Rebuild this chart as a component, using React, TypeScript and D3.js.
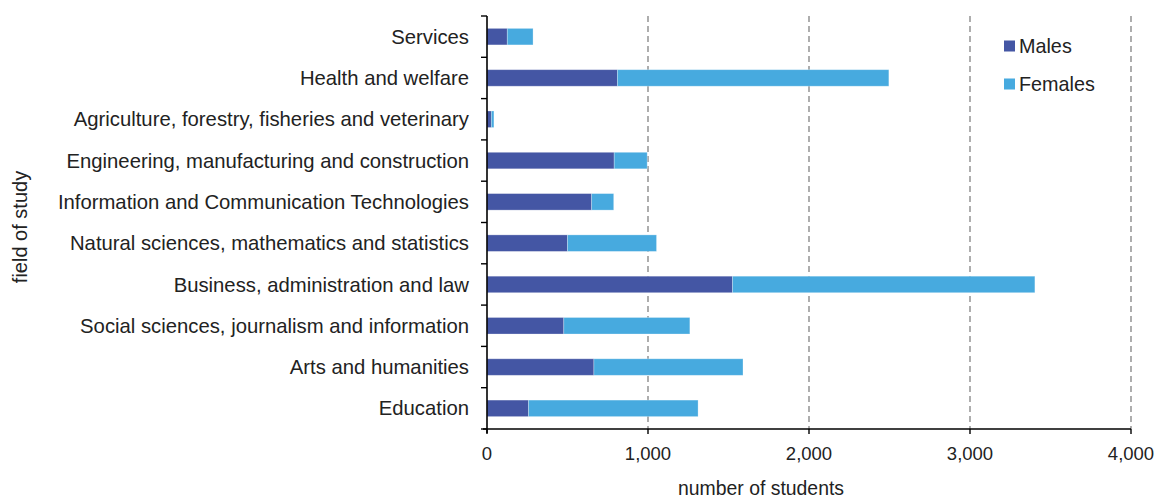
import { useEffect, useRef } from 'react';
import * as d3 from 'd3';

const categories = [
  'Services',
  'Health and welfare',
  'Agriculture, forestry, fisheries and veterinary',
  'Engineering, manufacturing and construction',
  'Information and Communication Technologies',
  'Natural sciences, mathematics and statistics',
  'Business, administration and law',
  'Social sciences, journalism and information',
  'Arts and humanities',
  'Education',
];

const males = [126, 810, 27, 790, 650, 500, 1525, 477, 664, 258];
const females = [160, 1686, 16, 205, 137, 553, 1878, 783, 926, 1053];

const xTicks = [0, 1000, 2000, 3000, 4000];
const seriesNames = ['Males', 'Females'];
const colors = ['#4456A4', '#47AADF'];

const W = 1157;
const H = 499;

const App = () => {
  const svgRef = useRef<SVGSVGElement>(null);

  useEffect(() => {
    if (!svgRef.current) return;
    const svg = d3.select(svgRef.current);
    svg.selectAll('*').remove();

    const left = 487;
    const right = 1131;
    const top = 16;
    const bottom = 429;
    const font = 'Liberation Sans, Arial, sans-serif';
    const textColor = '#222';

    const x = d3.scaleLinear().domain([0, 4000]).range([left, right]);
    const y = d3.scaleBand()
      .domain(categories)
      .range([top, bottom])
      .paddingInner(0.6)
      .paddingOuter(0.3);

    // dashed gridlines
    svg.append('g')
      .selectAll('line')
      .data(xTicks.filter(t => t > 0))
      .join('line')
      .attr('x1', d => x(d))
      .attr('x2', d => x(d))
      .attr('y1', top)
      .attr('y2', bottom)
      .attr('stroke', '#8c8c8c')
      .attr('stroke-width', 1.4)
      .attr('stroke-dasharray', '6,4');

    // stacked bars
    const rows = categories.map((c, i) => ({ cat: c, m: males[i], f: females[i] }));
    const stack = d3.stack<{ cat: string; m: number; f: number }>().keys(['m', 'f']);
    const layers = stack(rows);

    svg.append('g')
      .selectAll('g')
      .data(layers)
      .join('g')
      .attr('fill', (_, i) => colors[i])
      .selectAll('rect')
      .data(d => d)
      .join('rect')
      .attr('x', d => x(d[0]))
      .attr('y', d => y(d.data.cat) || 0)
      .attr('width', d => x(d[1]) - x(d[0]))
      .attr('height', y.bandwidth())
      .attr('stroke', 'rgba(255,255,255,0.35)')
      .attr('stroke-width', 0.8);

    // y axis line and ticks at band boundaries
    const step = y.step();
    svg.append('line')
      .attr('x1', left).attr('x2', left)
      .attr('y1', top).attr('y2', bottom + 4)
      .attr('stroke', '#000').attr('stroke-width', 1.6);

    svg.append('g')
      .selectAll('line')
      .data(d3.range(categories.length + 1))
      .join('line')
      .attr('x1', left - 6)
      .attr('x2', left)
      .attr('y1', i => top + i * step)
      .attr('y2', i => top + i * step)
      .attr('stroke', '#000')
      .attr('stroke-width', 1.4);

    // category labels
    svg.append('g')
      .selectAll('text')
      .data(categories)
      .join('text')
      .attr('x', 469)
      .attr('y', d => (y(d) || 0) + y.bandwidth() / 2)
      .attr('dy', '0.35em')
      .attr('text-anchor', 'end')
      .style('font-family', font)
      .style('font-size', '20.3px')
      .style('fill', textColor)
      .text(d => d);

    // x axis
    svg.append('line')
      .attr('x1', left - 4).attr('x2', right)
      .attr('y1', bottom).attr('y2', bottom)
      .attr('stroke', '#000').attr('stroke-width', 1.6);

    svg.append('g')
      .selectAll('line')
      .data(xTicks)
      .join('line')
      .attr('x1', d => x(d)).attr('x2', d => x(d))
      .attr('y1', bottom).attr('y2', bottom + 5)
      .attr('stroke', '#000').attr('stroke-width', 1.4);

    svg.append('g')
      .selectAll('text')
      .data(xTicks)
      .join('text')
      .attr('x', d => x(d))
      .attr('y', 454)
      .attr('dy', '0.35em')
      .attr('text-anchor', 'middle')
      .style('font-family', font)
      .style('font-size', '18.5px')
      .style('fill', textColor)
      .text(d => d3.format(',')(d));

    // axis titles
    svg.append('text')
      .attr('x', 761)
      .attr('y', 488)
      .attr('dy', '0.35em')
      .attr('text-anchor', 'middle')
      .style('font-family', font)
      .style('font-size', '19.4px')
      .style('fill', textColor)
      .text('number of students');

    svg.append('text')
      .attr('transform', 'rotate(-90)')
      .attr('x', -227)
      .attr('y', 20)
      .attr('dy', '0.35em')
      .attr('text-anchor', 'middle')
      .style('font-family', font)
      .style('font-size', '20px')
      .style('fill', textColor)
      .text('field of study');

    // legend
    const legend = svg.append('g')
      .selectAll('g')
      .data(seriesNames)
      .join('g')
      .attr('transform', (_, i) => `translate(1004,${46 + i * 38})`);

    legend.append('rect')
      .attr('x', 0)
      .attr('y', -5.5)
      .attr('width', 11)
      .attr('height', 11)
      .attr('fill', (_, i) => colors[i]);

    legend.append('text')
      .attr('x', 15)
      .attr('y', 0)
      .attr('dy', '0.35em')
      .style('font-family', font)
      .style('font-size', '19.8px')
      .style('fill', textColor)
      .text(d => d);
  }, []);

  return (
    <svg
      ref={svgRef}
      width={W}
      height={H}
      style={{ position: 'absolute', left: 0, top: 0, background: '#fff' }}
    />
  );
};

export default App;
